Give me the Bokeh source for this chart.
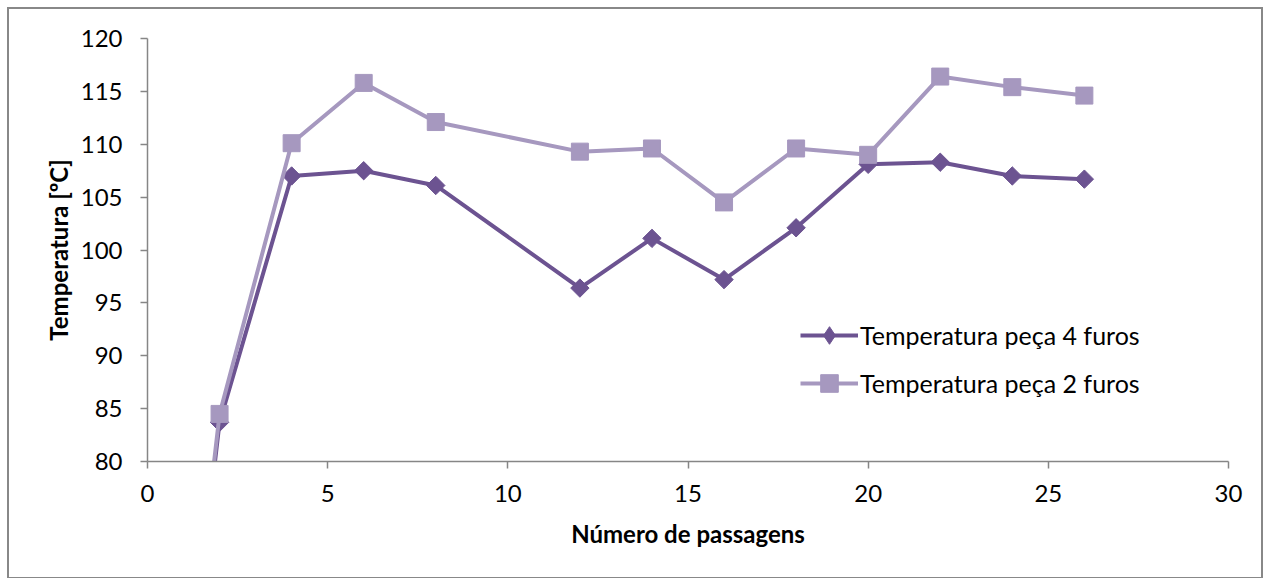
import math
from bokeh.plotting import figure
from bokeh.models import Range1d, SingleIntervalTicker, Legend, LegendItem
from bokeh.embed import file_html
from bokeh.resources import INLINE

# data
passagens = [0, 2, 4, 6, 8, 12, 14, 16, 18, 20, 22, 24, 26]
temp_4_furos = [25, 83.7, 107.0, 107.5, 106.1, 96.4, 101.1, 97.2, 102.1, 108.1, 108.3, 107.0, 106.7]
temp_2_furos = [25, 84.5, 110.1, 115.8, 112.1, 109.3, 109.6, 104.5, 109.6, 109.0, 116.4, 115.4, 114.6]
series_names = ["Temperatura peça 4 furos", "Temperatura peça 2 furos"]

FONT = "Lato"
DARK = "#6C5391"
LIGHT = "#A698BF"
AXIS = "#868686"

ORIG = 9  # canvas origin on the page (margin + border)
W, H = 1256, 572
p = figure(width=W, height=H, output_backend="svg", toolbar_location=None,
           x_range=Range1d(0, 30), y_range=Range1d(80, 120),
           min_border_left=147 - ORIG, min_border_right=ORIG + W - 1228,
           min_border_top=38 - ORIG, min_border_bottom=ORIG + H - 461)
p.styles = {"margin": "7px 0 0 7px", "border": "2px solid #888888"}
p.outline_line_color = None
p.xgrid.grid_line_color = None
p.ygrid.grid_line_color = None
p.background_fill_color = "white"
p.border_fill_color = "white"

p.xaxis.ticker = SingleIntervalTicker(interval=5)
p.yaxis.ticker = SingleIntervalTicker(interval=5)
for ax in (p.xaxis, p.yaxis):
    ax.axis_line_color = AXIS
    ax.axis_line_width = 1.5
    ax.major_tick_line_color = AXIS
    ax.major_tick_line_width = 1.5
    ax.major_tick_out = 7
    ax.major_tick_in = 0
    ax.minor_tick_line_color = None
    ax.major_label_text_font = FONT
    ax.major_label_text_font_size = "24px"
    ax.major_label_text_color = "#000000"
    ax.axis_label_text_font = FONT
    ax.axis_label_text_font_size = "24px"
    ax.axis_label_text_font_style = "bold"
    ax.axis_label_text_color = "#000000"

p.xaxis.axis_label = "Número de passagens"
p.yaxis.axis_label = "Temperatura [ºC]"
p.xaxis.major_label_standoff = 16
p.yaxis.major_label_standoff = 18
p.xaxis.axis_label_standoff = 14
p.yaxis.axis_label_standoff = 5

l1 = p.line(passagens, temp_4_furos, line_color=DARK, line_width=4)
# diamond glyph used for the legend (hidden under the rotated squares on the plot)
leg_diamond = p.scatter(passagens, temp_4_furos, marker="diamond", size=12,
                        fill_color=DARK, line_color=DARK)
m1 = p.scatter(passagens, temp_4_furos, marker="square", angle=math.pi / 4, size=13,
               fill_color=DARK, line_color=DARK)
l2 = p.line(passagens, temp_2_furos, line_color=LIGHT, line_width=4)
m2 = p.scatter(passagens, temp_2_furos, marker="square", size=17,
               fill_color=LIGHT, line_color=LIGHT)

legend = Legend(items=[LegendItem(label=series_names[0], renderers=[l1, leg_diamond]),
                       LegendItem(label=series_names[1], renderers=[l2, m2])],
                location=(653, 56), border_line_color=None, background_fill_alpha=0,
                padding=0, margin=0, spacing=4, glyph_width=58, glyph_height=44,
                label_height=44, label_standoff=2,
                label_text_font=FONT, label_text_font_size="25px",
                label_text_color="#000000")
p.add_layout(legend, "center")

open("out.html", "w").write(file_html(p, INLINE))
